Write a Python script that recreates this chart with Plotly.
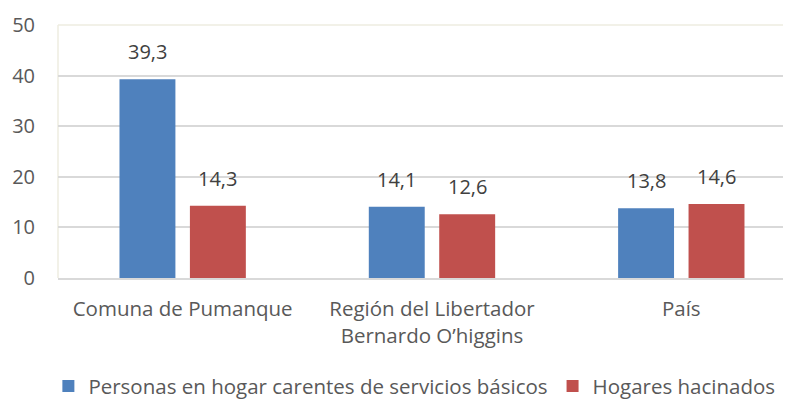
import plotly.graph_objects as go

categories = ["Comuna de Pumanque", "Región del Libertador<br>Bernardo O’higgins", "País"]
series_names = ["Personas en hogar carentes de servicios básicos", "Hogares hacinados"]
personas = [39.3, 14.1, 13.8]
hogares = [14.3, 12.6, 14.6]
y_ticks = [0, 10, 20, 30, 40, 50]

colors = ["#4F81BD", "#C0504D"]
font_family = "Open Sans"
txt = "#595959"
bargap = 0.435
bargroupgap = 0.206

fig = go.Figure()
for name, vals, c in zip(series_names, [personas, hogares], colors):
    fig.add_trace(go.Bar(
        x=categories, y=vals, name=name, marker=dict(color=c, line=dict(width=0)),
    ))

# value labels above bars
slot = (1 - bargap) / 2
for k, vals in enumerate([personas, hogares]):
    off = (k - 0.5) * slot
    for i, v in enumerate(vals):
        fig.add_annotation(x=i + off, y=v, xref="x", yref="y",
                           text=f"{v:.1f}".replace(".", ","), showarrow=False,
                           yanchor="bottom", yshift=12,
                           font=dict(size=20, color="#404040", family=font_family))

# page body adds 8px margin, so the figure is 8px smaller and shifted
fig.update_layout(
    width=783, height=393,
    margin=dict(l=50, r=0, t=17, b=123, autoexpand=False),
    paper_bgcolor="white", plot_bgcolor="white",
    separators=",.",
    barmode="group", bargap=bargap, bargroupgap=bargroupgap,
    font=dict(family=font_family, color=txt, size=20),
    showlegend=True,
    legend=dict(orientation="h", xref="container", x=0.519, xanchor="center",
                yref="container", y=0.038, yanchor="middle",
                font=dict(size=20.5, color=txt), traceorder="normal"),
    xaxis=dict(showgrid=False, showline=True, linecolor="#D9D9D9", linewidth=1.5,
               tickfont=dict(size=20.5, color=txt), ticks="", automargin=False,
               ticklabelstandoff=12, range=[-0.5, 2.44]),
    yaxis=dict(range=[0, 50], tickvals=y_ticks, showgrid=True, gridcolor="#D9D9D9",
               gridwidth=1.5, zeroline=False, tickfont=dict(size=20, color=txt),
               ticks="", ticklabelstandoff=22, showline=False, automargin=False),
)
fig.add_shape(type="line", xref="paper", yref="paper", x0=0, x1=0, y0=0, y1=1,
              line=dict(color="#EEECE1", width=1.5), layer="below")
fig.add_shape(type="line", xref="paper", yref="paper", x0=0, x1=1, y0=1, y1=1,
              line=dict(color="#EEECE1", width=1.5), layer="below")
fig.write_html("out.html")
